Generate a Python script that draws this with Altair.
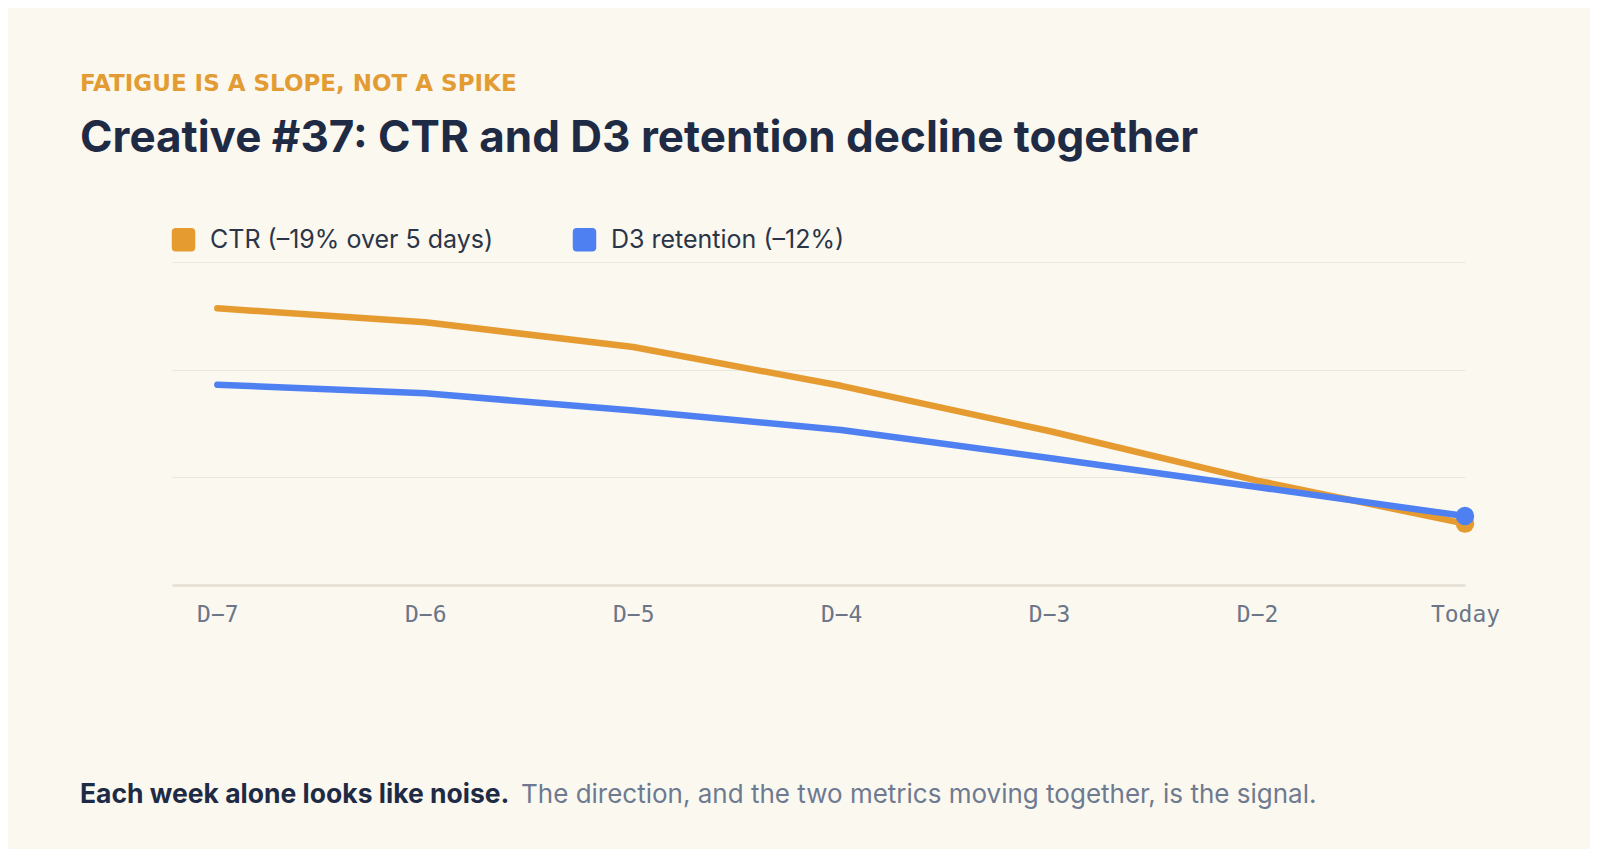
import json
import altair as alt
import pandas as pd

# ---- data ----
DAYS = ["D\u22127", "D\u22126", "D\u22125", "D\u22124", "D\u22123", "D\u22122", "Today"]
CTR = [2.57, 2.44, 2.21, 1.85, 1.43, 0.97, 0.57]
D3 = [1.86, 1.78, 1.62, 1.44, 1.18, 0.91, 0.64]
SERIES = ["CTR (\u201319% over 5 days)", "D3 retention (\u201312%)"]
COLORS = ["#E69B30", "#4F80F2"]

KICKER = ["FATIGUE IS A SLOPE, NOT A SPIKE"]
TITLE = ["Creative #37: CTR and D3 retention decline together"]
NOTE_BOLD = ["Each week alone looks like noise."]
NOTE_REST = ["The direction, and the two metrics moving together, is the signal."]

BG = "#FBF8F0"

rows = []
for i, d in enumerate(DAYS):
    rows.append({"idx": i, "day": d, "series": SERIES[0], "value": CTR[i]})
    rows.append({"idx": i, "day": d, "series": SERIES[1], "value": D3[i]})
df = pd.DataFrame(rows)
last = df[df["idx"] == len(DAYS) - 1]

label_expr = json.dumps(DAYS) + "[datum.value]"

x_enc = alt.X(
    "idx:Q",
    scale=alt.Scale(domain=[-0.218, 6], nice=False, zero=False),
    axis=alt.Axis(
        values=list(range(len(DAYS))),
        labelExpr=label_expr,
        title=None,
        ticks=False,
        grid=False,
        domain=True,
        domainColor="#E5DFD3",
        domainWidth=2.5,
        labelFont="DejaVu Sans Mono",
        labelFontSize=23,
        labelColor="#6B7689",
        labelPadding=29,
        labelBaseline="middle",
        labelFlush=False,
        labelOverlap=False,
    ),
)
y_enc = alt.Y(
    "value:Q",
    scale=alt.Scale(domain=[0, 3], nice=False),
    axis=alt.Axis(
        values=[1, 2, 3],
        labels=False,
        ticks=False,
        domain=False,
        title=None,
        grid=True,
        gridColor="#ECE7DC",
        gridWidth=1,
    ),
)

rounded_square = (
    "M-1,-0.65 Q-1,-1 -0.65,-1 L0.65,-1 Q1,-1 1,-0.65 L1,0.65 Q1,1 0.65,1 "
    "L-0.65,1 Q-1,1 -1,0.65 Z"
)

color_enc = alt.Color(
    "series:N",
    scale=alt.Scale(domain=SERIES, range=COLORS),
    legend=alt.Legend(
        title=None,
        orient="none",
        direction="horizontal",
        legendX=-1,
        legendY=-35,
        symbolType=rounded_square,
        symbolSize=552,
        symbolStrokeWidth=0,
        symbolOpacity=1,
        labelFont="Inter",
        labelFontSize=25,
        labelColor="#2B3548",
        labelLimit=600,
        labelOffset=14,
        columnPadding=78,
    ),
)

base = alt.Chart(df)

line_ctr = base.transform_filter(alt.datum.series == SERIES[0]).mark_line(
    strokeWidth=6.5, strokeCap="round", strokeJoin="round", interpolate="linear"
).encode(x=x_enc, y=y_enc, color=color_enc)

line_d3 = base.transform_filter(alt.datum.series == SERIES[1]).mark_line(
    strokeWidth=6.5, strokeCap="round", strokeJoin="round", interpolate="linear"
).encode(x=x_enc, y=y_enc, color=color_enc)

dots = alt.Chart(last).mark_point(filled=True, size=340, opacity=1, shape="circle").encode(
    x=x_enc, y=y_enc, color=alt.Color("series:N", scale=alt.Scale(domain=SERIES, range=COLORS), legend=None),
    order=alt.Order("idx:Q"),
)

kicker = alt.Chart(pd.DataFrame({"t": KICKER})).mark_text(
    font="DejaVu Sans", fontSize=23, fontWeight=700, color="#E39B33", align="left", baseline="alphabetic"
).encode(text="t:N", x=alt.value(-92), y=alt.value(-171))

title = alt.Chart(pd.DataFrame({"t": TITLE})).mark_text(
    font="Inter", fontSize=44, fontWeight=700, color="#1F2B45", align="left", baseline="alphabetic"
).encode(text="t:N", x=alt.value(-92), y=alt.value(-110))

note_bold = alt.Chart(pd.DataFrame({"t": NOTE_BOLD})).mark_text(
    font="Inter", fontSize=26.5, fontWeight=700, color="#1F2B45", align="left", baseline="alphabetic"
).encode(text="t:N", x=alt.value(-92), y=alt.value(541))

note_rest = alt.Chart(pd.DataFrame({"t": NOTE_REST})).mark_text(
    font="Inter", fontSize=26, fontWeight=400, color="#6E7A90", align="left", baseline="alphabetic"
).encode(text="t:N", x=alt.value(349), y=alt.value(541))

chart = alt.layer(
    line_ctr, line_d3, dots, kicker, title, note_bold, note_rest
).properties(
    width=1293,
    height=323,
    autosize=alt.AutoSizeParams(type="none"),
    padding={"left": 164, "top": 254, "right": 125, "bottom": 264},
    background=BG,
).configure_view(stroke=None)

chart.save("out.html", embed_options={"renderer": "svg", "actions": False})
